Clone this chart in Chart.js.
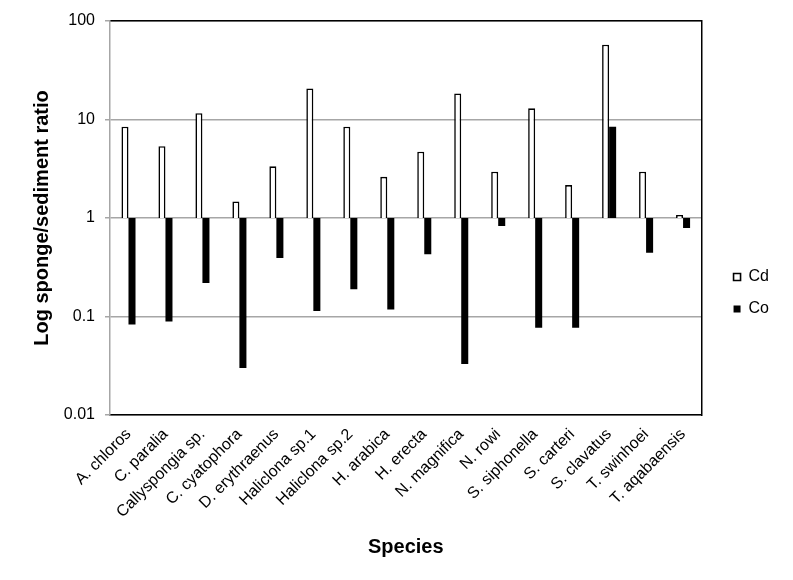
<!DOCTYPE html>
<html>
<head>
<meta charset="utf-8">
<script src="https://cdn.jsdelivr.net/npm/chart.js@4/dist/chart.umd.min.js"></script>
<style>
  html, body { margin: 0; padding: 0; background: #fff; }
  #wrap { width: 793px; height: 580px; }
</style>
</head>
<body>
<div id="wrap"><canvas id="c" width="793" height="580"></canvas></div>
<script>
const species = ["A. chloros", "C. paralia", "Callyspongia sp.", "C. cyatophora", "D. erythraenus",
  "Haliclona sp.1", "Haliclona sp.2", "H. arabica", "H. erecta", "N. magnifica", "N. rowi",
  "S. siphonella", "S. carteri", "S. clavatus", "T. swinhoei", "T. aqabaensis"];
const cdValues = [8.45, 5.35, 11.6, 1.47, 3.35, 20.7, 8.45, 2.62, 4.71, 18.4, 2.95, 13.0, 2.16, 57.5, 2.95, 1.07];
const coValues = [0.083, 0.089, 0.219, 0.030, 0.393, 0.114, 0.189, 0.118, 0.428, 0.033, 0.83, 0.077, 0.077, 8.45, 0.445, 0.79];
const baseline = 1;
const yTickValues = [0.01, 0.1, 1, 10, 100];
const yTickLabels = ["0.01", "0.1", "1", "10", "100"];

const font = "'Liberation Sans', Arial, Helvetica, sans-serif";

new Chart(document.getElementById('c'), {
  type: 'bar',
  data: {
    labels: species,
    datasets: [
      {
        label: 'Cd',
        data: cdValues.map(v => [baseline, v]),
        backgroundColor: '#ffffff',
        borderColor: '#000000',
        borderWidth: 1.6,
        categoryPercentage: 0.38,
        barPercentage: 1.0
      },
      {
        label: 'Co',
        data: coValues.map(v => [baseline, v]),
        backgroundColor: '#000000',
        borderColor: '#000000',
        borderWidth: 0,
        categoryPercentage: 0.38,
        barPercentage: 1.0
      }
    ]
  },
  options: {
    responsive: false,
    animation: false,
    devicePixelRatio: 1,
    layout: { padding: { left: 0, top: 21, right: 14, bottom: 15 } },
    plugins: {
      tooltip: { enabled: false },
      legend: {
        position: 'right',
        align: 'center',
        labels: {
          boxWidth: 7,
          boxHeight: 7,
          padding: 16,
          color: '#000',
          font: { family: font, size: 16 }
        }
      }
    },
    scales: {
      x: {
        position: 'bottom',
        grid: { display: false },
        border: { display: true, color: '#000', width: 1.5 },
        ticks: {
          color: '#000',
          font: { family: font, size: 16 },
          minRotation: 45,
          maxRotation: 45,
          autoSkip: false,
          padding: 2
        },
        title: {
          display: true,
          text: 'Species',
          color: '#000',
          font: { family: font, size: 20, weight: 'bold' },
          padding: { top: 0, bottom: 6 }
        },
        afterFit: s => { s.height = 150; }
      },
      x2: {
        type: 'category',
        labels: species,
        position: 'top',
        grid: { display: false },
        ticks: { display: false },
        border: { display: true, color: '#000', width: 1.5 },
        afterFit: s => { s.height = 0; }
      },
      y: {
        type: 'logarithmic',
        position: 'left',
        min: 0.01,
        max: 100,
        afterBuildTicks: s => { s.ticks = yTickValues.map(v => ({ value: v })); },
        ticks: {
          color: '#000',
          font: { family: font, size: 16 },
          padding: 10,
          callback: (v) => { const i = yTickValues.indexOf(v); return i >= 0 ? yTickLabels[i] : ''; }
        },
        grid: { color: '#a6a6a6', lineWidth: 1.5, tickLength: 5, drawTicks: true },
        border: { display: true, color: '#a6a6a6', width: 1.5 },
        title: {
          display: true,
          text: 'Log sponge/sediment ratio',
          color: '#000',
          font: { family: font, size: 20, weight: 'bold' },
          padding: { top: 30, bottom: 0 }
        },
        afterFit: s => { s.width = 110; }
      },
      y2: {
        type: 'linear',
        position: 'right',
        min: 0, max: 1,
        grid: { display: false },
        ticks: { display: false },
        border: { display: true, color: '#000', width: 1.5 },
        afterFit: s => { s.width = 16; }
      }
    }
  }
});
</script>
</body>
</html>
